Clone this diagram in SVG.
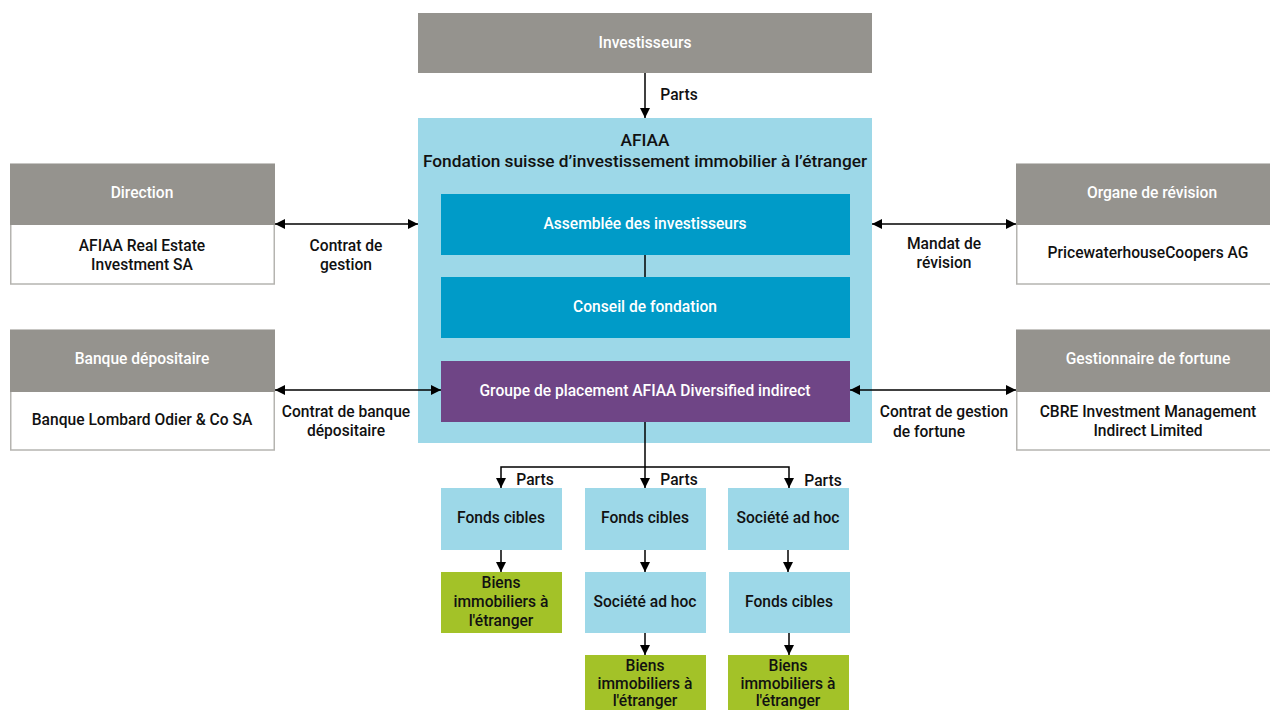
<svg xmlns="http://www.w3.org/2000/svg" width="1270" height="710" viewBox="0 0 1270 710">
<defs>
<marker id="ah" viewBox="0 0 10 10" refX="10" refY="5" markerWidth="10" markerHeight="10" markerUnits="userSpaceOnUse" orient="auto-start-reverse">
<path d="M0,0 L10,5 L0,10 Z" fill="#000"/>
</marker>
<style>
text{font-family:Roboto,"Liberation Sans",sans-serif;font-size:15.6px;font-weight:500;text-anchor:middle}
.w{fill:#fff}
.k{fill:#111}
.t{font-size:17.3px}
.gray{fill:#95938e}
.box{fill:#fff;stroke:#b5b4b0;stroke-width:1.5}
.lb{fill:#9dd8e8}
.teal{fill:#009bc8}
.pur{fill:#6f4586}
.grn{fill:#a3c228}
.c{stroke:#000;stroke-width:1.5;fill:none}
.a{marker-end:url(#ah)}
.b{marker-start:url(#ah);marker-end:url(#ah)}
</style>
</defs>
<rect width="1270" height="710" fill="#fff"/>

<g id="investisseurs">
<rect class="gray" x="418" y="13" width="454" height="60"/>
<text class="w" x="645" y="48">Investisseurs</text>
</g>

<g id="afiaa">
<rect class="lb" x="418" y="118" width="454" height="325"/>
<text class="k t" x="645" y="146">AFIAA</text>
<text class="k t" x="645" y="167">Fondation suisse d’investissement immobilier à l’étranger</text>
</g>

<g id="assemblee">
<rect class="teal" x="441" y="194" width="409" height="61"/>
<text class="w" x="645" y="229">Assemblée des investisseurs</text>
</g>
<g id="conseil">
<rect class="teal" x="441" y="277" width="409" height="61"/>
<text class="w" x="645" y="312">Conseil de fondation</text>
</g>
<g id="groupe">
<rect class="pur" x="441" y="361" width="409" height="61"/>
<text class="w" x="645" y="396">Groupe de placement AFIAA Diversified indirect</text>
</g>

<g id="direction">
<rect class="box" x="10.75" y="164" width="263.5" height="120"/>
<rect class="gray" x="10" y="164" width="265" height="61"/>
<text class="w" x="142" y="198">Direction</text>
<text class="k" x="142" y="251">AFIAA Real Estate</text>
<text class="k" x="142" y="270">Investment SA</text>
</g>

<g id="banque">
<rect class="box" x="10.75" y="330" width="263.5" height="120"/>
<rect class="gray" x="10" y="330" width="265" height="62"/>
<text class="w" x="142" y="364">Banque dépositaire</text>
<text class="k" x="142" y="425">Banque Lombard Odier &amp; Co SA</text>
</g>

<g id="organe">
<rect class="box" x="1016.75" y="164" width="260" height="120"/>
<rect class="gray" x="1016" y="164" width="260" height="61"/>
<text class="w" x="1152" y="198">Organe de révision</text>
<text class="k" x="1148" y="258">PricewaterhouseCoopers AG</text>
</g>

<g id="gestionnaire">
<rect class="box" x="1016.75" y="330" width="260" height="120"/>
<rect class="gray" x="1016" y="330" width="260" height="62"/>
<text class="w" x="1148" y="364">Gestionnaire de fortune</text>
<text class="k" x="1148" y="417">CBRE Investment Management</text>
<text class="k" x="1148" y="436">Indirect Limited</text>
</g>

<g id="fonds1">
<rect class="lb" x="441" y="488" width="121" height="62"/>
<text class="k" x="501" y="523">Fonds cibles</text>
</g>
<g id="fonds2">
<rect class="lb" x="585" y="488" width="121" height="62"/>
<text class="k" x="645" y="523">Fonds cibles</text>
</g>
<g id="societe3">
<rect class="lb" x="728" y="488" width="121" height="62"/>
<text class="k" x="788" y="523">Société ad hoc</text>
</g>
<g id="biens1">
<rect class="grn" x="441" y="572" width="121" height="61"/>
<text class="k" x="501" y="588">Biens</text>
<text class="k" x="501" y="607">immobiliers à</text>
<text class="k" x="501" y="626">l'étranger</text>
</g>
<g id="societe2">
<rect class="lb" x="585" y="572" width="121" height="61"/>
<text class="k" x="645" y="607">Société ad hoc</text>
</g>
<g id="fonds3">
<rect class="lb" x="729" y="572" width="121" height="61"/>
<text class="k" x="789" y="607">Fonds cibles</text>
</g>
<g id="biens2">
<rect class="grn" x="585" y="655" width="121" height="60"/>
<text class="k" x="645" y="671">Biens</text>
<text class="k" x="645" y="689">immobiliers à</text>
<text class="k" x="645" y="706">l'étranger</text>
</g>
<g id="biens3">
<rect class="grn" x="728" y="655" width="121" height="60"/>
<text class="k" x="788" y="671">Biens</text>
<text class="k" x="788" y="689">immobiliers à</text>
<text class="k" x="788" y="706">l'étranger</text>
</g>

<g id="connectors">
<line class="c a" x1="645" y1="73" x2="645" y2="118"/>
<text class="k" x="679" y="100">Parts</text>
<line class="c" x1="645" y1="255" x2="645" y2="277"/>
<line class="c b" x1="275" y1="224" x2="418" y2="224"/>
<text class="k" x="346" y="251">Contrat de</text>
<text class="k" x="346" y="270">gestion</text>
<line class="c b" x1="275" y1="390" x2="441" y2="390"/>
<text class="k" x="346" y="417">Contrat de banque</text>
<text class="k" x="346" y="436">dépositaire</text>
<line class="c b" x1="872" y1="224" x2="1016" y2="224"/>
<text class="k" x="944" y="249">Mandat de</text>
<text class="k" x="944" y="268">révision</text>
<line class="c b" x1="850" y1="390" x2="1016" y2="390"/>
<text class="k" x="944" y="417">Contrat de gestion</text>
<text class="k" x="929" y="437">de fortune</text>
<line class="c" x1="645" y1="422" x2="645" y2="467"/>
<polyline class="c" points="501,488 501,467 789,467 789,488" marker-start="url(#ah)" marker-end="url(#ah)"/>
<line class="c a" x1="645" y1="467" x2="645" y2="488"/>
<text class="k" x="535" y="485">Parts</text>
<text class="k" x="679" y="485">Parts</text>
<text class="k" x="823" y="486">Parts</text>
<line class="c a" x1="501" y1="550" x2="501" y2="572"/>
<line class="c a" x1="645" y1="550" x2="645" y2="572"/>
<line class="c a" x1="788" y1="550" x2="788" y2="572"/>
<line class="c a" x1="645" y1="633" x2="645" y2="655"/>
<line class="c a" x1="789" y1="633" x2="789" y2="655"/>
</g>
</svg>
